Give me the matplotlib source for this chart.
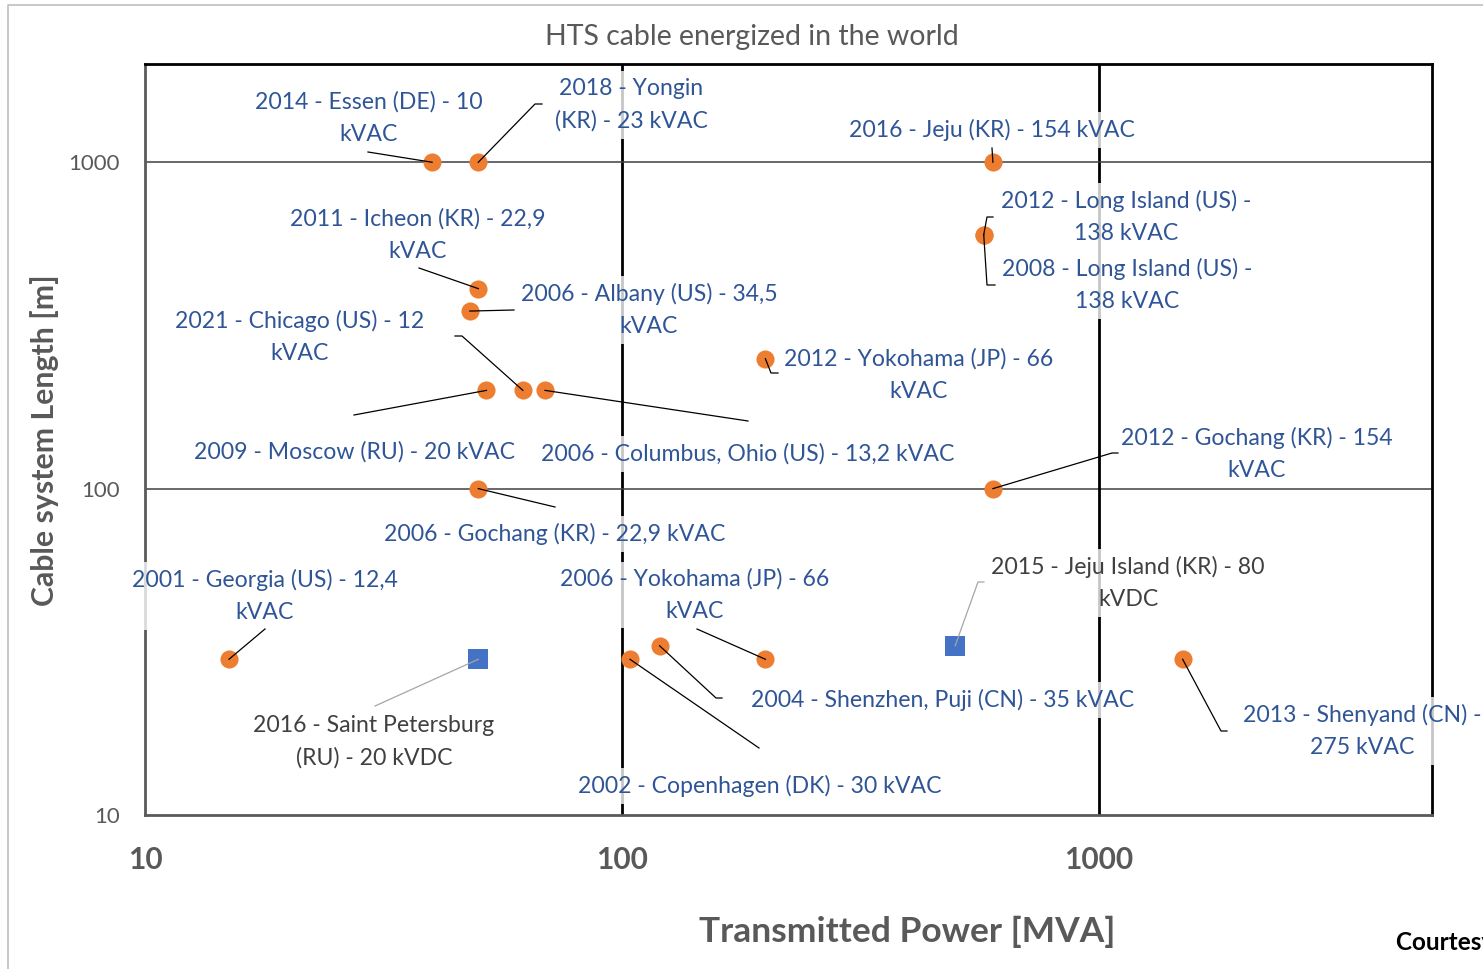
import matplotlib
matplotlib.use('Agg')
import matplotlib.pyplot as plt
from matplotlib.lines import Line2D
from matplotlib.ticker import FixedLocator, NullLocator
import numpy as np

plt.rcParams['font.family'] = ['Lato', 'DejaVu Sans']

# AC installations
power_ac = [40, 50, 600, 574, 574, 50, 48, 62, 52, 69, 50, 600, 200, 15, 200, 120, 104, 1500]
length_ac = [1000, 1000, 1000, 600, 600, 410, 350, 200, 200, 200, 100, 100, 250, 30, 30, 33, 30, 30]
labels_ac = [
    "2014 - Essen (DE) - 10\nkVAC",
    "2018 - Yongin\n(KR) - 23 kVAC",
    "2016 - Jeju (KR) - 154 kVAC",
    "2012 - Long Island (US) -\n138 kVAC",
    "2008 - Long Island (US) -\n138 kVAC",
    "2011 - Icheon (KR) - 22,9\nkVAC",
    "2006 - Albany (US) - 34,5\nkVAC",
    "2021 - Chicago (US) - 12\nkVAC",
    "2009 - Moscow (RU) - 20 kVAC",
    "2006 - Columbus, Ohio (US) - 13,2 kVAC",
    "2006 - Gochang (KR) - 22,9 kVAC",
    "2012 - Gochang (KR) - 154\nkVAC",
    "2012 - Yokohama (JP) - 66\nkVAC",
    "2001 - Georgia (US) - 12,4\nkVAC",
    "2006 - Yokohama (JP) - 66\nkVAC",
    "2004 - Shenzhen, Puji (CN) - 35 kVAC",
    "2002 - Copenhagen (DK) - 30 kVAC",
    "2013 - Shenyand (CN) -\n275 kVAC",
]

# DC installations
power_dc = [50, 500]
length_dc = [30, 33]
labels_dc = [
    "2016 - Saint Petersburg\n(RU) - 20 kVDC",
    "2015 - Jeju Island (KR) - 80\nkVDC",
]

# label centres and leader elbows, in pixels from the top-left corner
pos_ac = [(369, 118), (631, 105), (992, 130), (1126, 217), (1127, 285), (418, 235),
          (649, 310), (300, 337), (354, 452), (748, 454), (555, 534), (1257, 454),
          (919, 375), (265, 596), (695, 595), (943, 700), (760, 786), (1362, 731)]
lead_ac = [[(368, 152)], [(542, 104), (535, 104)], [(992, 148)],
           [(993, 217), (987, 217)], [(995, 285), (987, 285)], [(419, 268)],
           [(514, 310)], [(455, 336), (462, 336)], [(354, 415)], [(748, 421)],
           [(555, 507)], [(1118, 453), (1112, 453)], [(778, 373), (771, 373)],
           [(265, 629)], [(697, 629)], [(722, 698), (716, 698)], [(759, 748)],
           [(1227, 731), (1221, 731)]]
pos_dc = [(374, 742), (1128, 583)]
lead_dc = [[(375, 706)], [(984, 582), (978, 582)]]

W, H = 1483, 969
fig = plt.figure(figsize=(W / 100, H / 100), dpi=100)
ax = fig.add_axes([145 / W, 1 - 815 / H, (1432 - 145) / W, (815 - 64) / H])
ax.set_xscale('log')
ax.set_yscale('log')
ax.set_xlim(10, 5000)
ax.set_ylim(10, 2000)

ax.xaxis.set_major_locator(FixedLocator([10, 100, 1000]))
ax.yaxis.set_major_locator(FixedLocator([10, 100, 1000]))
ax.xaxis.set_minor_locator(NullLocator())
ax.yaxis.set_minor_locator(NullLocator())
ax.set_xticklabels(['10', '100', '1000'])
ax.set_yticklabels(['10', '100', '1000'])
ax.tick_params(axis='x', length=0, pad=22, labelsize=21.5, labelcolor='#595959')
ax.tick_params(axis='y', length=0, pad=18, labelsize=16, labelcolor='#595959')
for t in ax.get_xticklabels():
    t.set_fontweight('bold')

for v in [100, 1000]:
    ax.axvline(v, color='black', lw=2.0, zorder=1)
    ax.axhline(v, color='#404040', lw=1.1, zorder=1)

for s in ['top', 'right']:
    ax.spines[s].set_color('black')
    ax.spines[s].set_linewidth(2.0)
for s in ['left', 'bottom']:
    ax.spines[s].set_color('#5a5a5a')
    ax.spines[s].set_linewidth(2.0)

ax.scatter(power_ac, length_ac, s=170, marker='o', color='#ED7D31', lw=0, zorder=2)
ax.scatter(power_dc, length_dc, s=190, marker='s', color='#4472C4', lw=0, zorder=2)

fig.canvas.draw()


def to_disp(p):
    return (p[0], H - p[1])


def add_labels(xs, ys, texts, poss, leads, tcolor, lcolor, llw):
    for x, y, txt, p, lead in zip(xs, ys, texts, poss, leads):
        px, py = to_disp(p)
        fig.text(px / W, py / H, txt, ha='center', va='center', fontsize=16.6,
                 color=tcolor, linespacing=1.62, zorder=5,
                 bbox=dict(boxstyle='square,pad=0.3', fc='white', ec='none', alpha=0.78))
        dx, dy = ax.transData.transform((x, y))
        pts = [to_disp(q) for q in lead] + [(dx, dy)]
        pts = np.array(pts)
        fig.add_artist(Line2D(pts[:, 0], pts[:, 1], transform=None,
                              color=lcolor, lw=llw, zorder=6))


add_labels(power_ac, length_ac, labels_ac, pos_ac, lead_ac, '#2F5597', 'black', 0.9)
add_labels(power_dc, length_dc, labels_dc, pos_dc, lead_dc, '#404040', '#a6a6a6', 0.9)

fig.text(752 / W, 1 - 37 / H, "HTS cable energized in the world", ha='center', va='center',
         fontsize=20.5, color='#595959')
fig.text(907 / W, 1 - 932 / H, "Transmitted Power [MVA]", ha='center', va='center',
         fontsize=25.5, fontweight='bold', color='#595959')
fig.text(45 / W, 1 - 440 / H, "Cable system Length [m]", ha='center', va='center',
         rotation=90, fontsize=21.8, fontweight='bold', color='#595959')
fig.text(1396 / W, 1 - 943 / H, "Courtesy of", ha='left', va='center',
         fontsize=17.5, fontweight='bold', color='black')

# chart area border
fig.add_artist(Line2D([8, 8, W], [0, H - 5, H - 5], transform=None, color='#bfbfbf', lw=1.2))

fig.savefig('out.png', dpi=100)
